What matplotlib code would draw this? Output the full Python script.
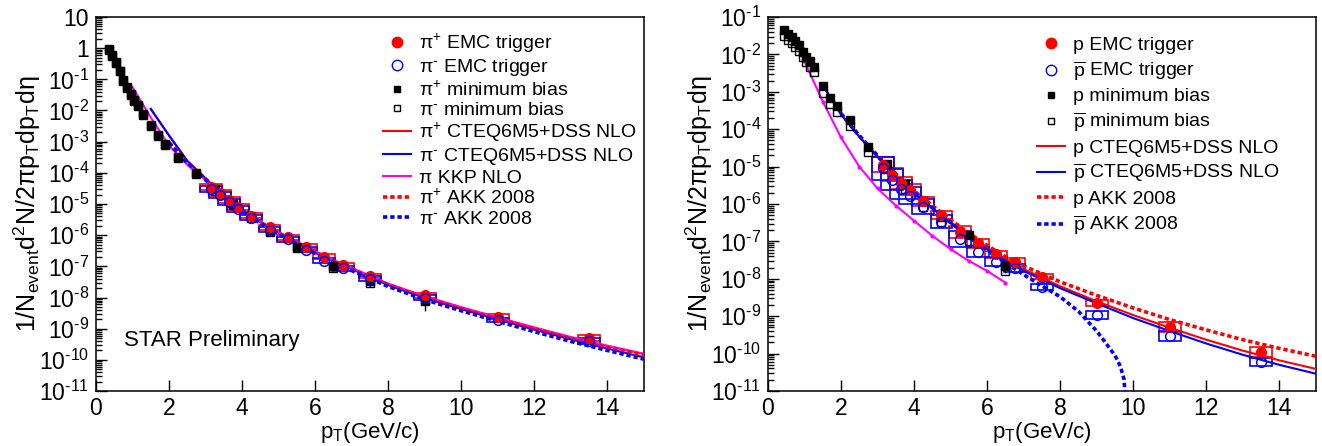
import numpy as np
import matplotlib
matplotlib.use('Agg')
import matplotlib.pyplot as plt
from matplotlib.patches import Rectangle
from matplotlib.lines import Line2D
from matplotlib.ticker import LogLocator, FuncFormatter, MultipleLocator, NullLocator

plt.rcParams['font.family'] = ['Liberation Sans', 'DejaVu Sans']
plt.rcParams['mathtext.fontset'] = 'custom'
plt.rcParams['mathtext.rm'] = 'Liberation Sans'
plt.rcParams['mathtext.it'] = 'Liberation Sans:italic'
plt.rcParams['mathtext.bf'] = 'Liberation Sans:bold'

HY = '\u2010'  # short hyphen used as superscript minus

# ---------------- pions ----------------
emc_pt = [3.15, 3.4, 3.65, 3.9, 4.25, 4.75, 5.25, 5.75, 6.25, 6.75, 7.5, 9.0, 11.0, 13.5]
pip_emc = [3.5e-5, 2.2e-5, 1.35e-5, 8.0e-6, 4.2e-6, 1.8e-6, 8.7e-7, 4.2e-7, 2.0e-7, 1.1e-7, 4.9e-8, 1.2e-8, 2.4e-9, 5.0e-10]
pim_emc = [3.1e-5, 1.9e-5, 1.15e-5, 6.8e-6, 3.6e-6, 1.5e-6, 7.3e-7, 3.4e-7, 1.5e-7, 8.8e-8, 4.0e-8, 1.0e-8, 1.9e-9, 3.9e-10]
pip_sys = [0.25, 0.25, 0.25, 0.25, 0.2, 0.2, 0.2, 0.2, 0.2, 0.2, 0.2, 0.2, 0.2, 0.25]
pim_sys = [0.25, 0.25, 0.25, 0.25, 0.2, 0.2, 0.2, 0.2, 0.2, 0.2, 0.2, 0.2, 0.2, 0.25]

pi_mb_pt = [0.35, 0.45, 0.55, 0.65, 0.75, 0.85, 0.95, 1.05, 1.15, 1.3, 1.5, 1.7, 1.9, 2.25, 2.75,
            3.25, 3.75, 4.25, 4.75, 5.5, 6.5, 7.5, 9.0]
pip_mb = [0.93, 0.6, 0.36, 0.19, 0.096, 0.056, 0.034, 0.022, 0.015, 0.0078, 0.0035, 0.0016, 8.4e-4, 3.3e-4, 1.0e-4,
          3.0e-5, 1.0e-5, 4.0e-6, 1.4e-6, 4.2e-7, 1.0e-7, 3.4e-8, 8.3e-9]
pip_mb_err = [0, 0, 0, 0, 0, 0, 0, 0, 0, 0, 0, 0, 0, 0, 0,
              0, 0, 0, 0, 0, 1.0e-8, 1.3e-8, 4.5e-9]
pim_mb = [0.88, 0.56, 0.34, 0.18, 0.09, 0.052, 0.032, 0.020, 0.014, 0.0072, 0.0032, 0.0015, 7.7e-4, 3.0e-4, 9.2e-5,
          2.7e-5, 9.0e-6, 3.6e-6, 1.25e-6, 3.8e-7, 9.0e-8, 3.0e-8, 7.5e-9]

nlo_pt = [1.5, 2.0, 2.5, 3.0, 3.5, 4.0, 4.5, 5.0, 5.5, 6.0, 6.5, 7.0, 8.0, 9.0, 10.0, 11.0, 12.0, 13.0, 14.0, 15.0]
pip_dss = [1.12e-2, 1.58e-3, 2.4e-4, 6.6e-5, 1.82e-5, 6.5e-6, 2.7e-6, 1.23e-6, 6.0e-7, 3.0e-7, 1.58e-7, 8.7e-8,
           2.7e-8, 1.05e-8, 4.7e-9, 2.2e-9, 1.05e-9, 5.2e-10, 2.75e-10, 1.55e-10]
pim_dss = [1.12e-2, 1.58e-3, 2.4e-4, 6.5e-5, 1.78e-5, 6.3e-6, 2.6e-6, 1.18e-6, 5.7e-7, 2.82e-7, 1.48e-7, 8.1e-8,
           2.5e-8, 9.6e-9, 4.25e-9, 1.97e-9, 9.3e-10, 4.55e-10, 2.3e-10, 1.2e-10]
akk_pt = [2.0, 2.5, 3.0, 3.5, 4.0, 4.5, 5.0, 5.5, 6.0, 6.5, 7.0, 8.0, 9.0, 10.0, 11.0, 12.0, 13.0, 14.0, 15.0]
pip_akk = [9.5e-4, 2.2e-4, 6.4e-5, 1.78e-5, 6.3e-6, 2.6e-6, 1.18e-6, 5.7e-7, 2.85e-7, 1.5e-7, 8.2e-8, 2.55e-8,
           9.8e-9, 4.4e-9, 2.05e-9, 9.7e-10, 4.8e-10, 2.5e-10, 1.4e-10]
pim_akk = [9.0e-4, 2.1e-4, 6.0e-5, 1.68e-5, 5.9e-6, 2.4e-6, 1.08e-6, 5.2e-7, 2.6e-7, 1.35e-7, 7.3e-8, 2.25e-8,
           8.5e-9, 3.75e-9, 1.72e-9, 8.0e-10, 3.9e-10, 2.0e-10, 1.05e-10]
kkp_pt = [1.0, 1.5, 2.0, 2.5, 3.0, 3.5, 4.0, 4.5, 5.0, 5.5, 6.0, 6.5, 7.0, 8.0, 9.0, 10.0, 11.0, 12.0, 13.0, 14.0, 15.0]
pi_kkp = [5.6e-2, 6.0e-3, 7.5e-4, 1.8e-4, 5.8e-5, 1.75e-5, 6.4e-6, 2.7e-6, 1.24e-6, 6.1e-7, 3.05e-7, 1.6e-7, 8.9e-8,
          2.8e-8, 1.1e-8, 4.9e-9, 2.3e-9, 1.1e-9, 5.4e-10, 2.85e-10, 1.55e-10]

# ---------------- protons ----------------
p_emc = [1.12e-5, 6.0e-6, 3.55e-6, 2.4e-6, 1.17e-6, 5.1e-7, 1.8e-7, 8.9e-8, 4.5e-8, 2.8e-8, 1.15e-8, 2.2e-9, 5.2e-10, 1.12e-10]
pbar_emc = [8.9e-6, 4.5e-6, 2.5e-6, 1.66e-6, 8.5e-7, 3.4e-7, 1.15e-7, 5.2e-8, 2.9e-8, 1.95e-8, 5.9e-9, 1.07e-9, 2.95e-10, 6.0e-11]
p_sys = [0.6, 0.5, 0.45, 0.4, 0.35, 0.3, 0.45, 0.3, 0.25, 0.25, 0.2, 0.2, 0.35, 0.35]
pbar_sys = [1.0, 0.9, 0.8, 0.7, 0.6, 0.5, 0.6, 0.35, 0.3, 0.3, 0.2, 0.25, 0.35, 0.3]

p_mb_pt = [0.45, 0.55, 0.65, 0.75, 0.85, 0.95, 1.05, 1.15, 1.25, 1.5, 1.7, 1.9, 2.25, 2.75,
           3.25, 3.75, 4.25, 4.75, 5.5, 6.5]
p_mb = [4.5e-2, 3.6e-2, 2.95e-2, 2.35e-2, 1.78e-2, 1.17e-2, 8.7e-3, 6.5e-3, 4.7e-3, 1.4e-3, 6.8e-4, 4.2e-4, 1.8e-4, 3.4e-5,
        1.17e-5, 3.5e-6, 1.17e-6, 4.6e-7, 1.48e-7, 2.2e-8]
p_mb_err = [0, 0, 0, 0, 0, 0, 0, 0, 0, 0, 0, 0, 0, 0,
            0, 0, 0, 0, 0, 8.0e-9]
pbar_mb = [3.2e-2, 2.5e-2, 2.0e-2, 1.6e-2, 1.2e-2, 8.3e-3, 6.2e-3, 4.6e-3, 3.4e-3, 9.5e-4, 4.7e-4, 2.9e-4, 1.25e-4, 2.5e-5,
           8.5e-6, 2.5e-6, 8.5e-7, 3.3e-7, 1.0e-7, 1.6e-8]

p_dss = [1.51e-3, 2.5e-4, 6.3e-5, 1.86e-5, 5.75e-6, 2.0e-6, 7.9e-7, 3.3e-7, 1.45e-7, 6.8e-8, 3.4e-8, 1.82e-8,
         6.3e-9, 2.5e-9, 1.07e-9, 4.9e-10, 2.35e-10, 1.2e-10, 6.6e-11, 3.9e-11]
pbar_dss = [1.51e-3, 2.5e-4, 6.3e-5, 1.86e-5, 5.6e-6, 1.95e-6, 7.6e-7, 3.1e-7, 1.35e-7, 6.2e-8, 3.0e-8, 1.62e-8,
            5.6e-9, 2.2e-9, 8.9e-10, 4.0e-10, 1.86e-10, 9.3e-11, 5.0e-11, 2.9e-11]
p_akk = [2.6e-4, 6.8e-5, 2.0e-5, 6.3e-6, 2.25e-6, 9.1e-7, 3.8e-7, 1.66e-7, 7.8e-8, 3.9e-8, 2.2e-8, 8.3e-9,
         3.6e-9, 1.66e-9, 8.1e-10, 4.3e-10, 2.35e-10, 1.38e-10, 8.5e-11]
pbar_akk_pt = [2.0, 2.5, 3.0, 3.5, 4.0, 4.5, 5.0, 5.5, 6.0, 6.5, 7.0, 7.5, 8.0, 8.5, 9.0, 9.25, 9.5, 9.65, 9.75, 9.82]
pbar_akk = [2.6e-4, 6.6e-5, 1.9e-5, 5.9e-6, 2.05e-6, 7.9e-7, 3.2e-7, 1.32e-7, 5.8e-8, 2.7e-8, 1.29e-8, 6.5e-9,
            3.3e-9, 1.35e-9, 4.0e-10, 1.9e-10, 8.9e-11, 4.5e-11, 2.0e-11, 1e-12]
p_kkp_pt = [1.0, 1.5, 2.0, 2.5, 3.0, 3.5, 4.0, 4.5, 5.0, 5.5, 6.0, 6.5]
p_kkp = [6.5e-3, 5.5e-4, 6.0e-5, 1.0e-5, 2.6e-6, 9.1e-7, 3.55e-7, 1.41e-7, 6.2e-8, 3.0e-8, 1.62e-8, 7.9e-9]

RED, BLUE, MAG = '#ff0000', '#0000ff', '#ff00ff'
DOT = (0, (1.2, 0.8))


def sys_boxes(ax, pt, y, s, color, hw=0.3):
    for x0, y0, s0 in zip(pt, y, s):
        lo, hi = y0 / (1 + s0), y0 * (1 + s0)
        ax.add_patch(Rectangle((x0 - hw, lo), 2 * hw, hi - lo, fill=False,
                               ec=color, lw=1.2, zorder=2))


def exp_label(v, pos):
    e = int(round(np.log10(v)))
    if e == 1:
        return '10'
    if e == 0:
        return '1'
    sign = HY if e < 0 else ''
    return r'$\mathrm{10^{%s%d}}$' % (sign, abs(e))


def style_axes(ax, ylo, yhi):
    ax.set_xlim(0, 15)
    ax.set_yscale('log')
    ax.set_ylim(ylo, yhi)
    ax.xaxis.set_major_locator(MultipleLocator(2))
    ax.xaxis.set_minor_locator(NullLocator())
    ax.yaxis.set_major_locator(LogLocator(base=10, numticks=30))
    ax.yaxis.set_minor_locator(LogLocator(base=10, subs=np.arange(2, 10), numticks=30))
    ax.yaxis.set_major_formatter(FuncFormatter(exp_label))
    ax.tick_params(which='both', direction='in', top=False, right=False, labelsize=16.5, width=1.0)
    ax.tick_params(axis='x', which='major', length=8, pad=4)
    ax.tick_params(axis='y', which='major', length=8, pad=5)
    ax.tick_params(axis='y', which='minor', length=4.3)
    for sp in ax.spines.values():
        sp.set_linewidth(1.1)
    ax.set_xlabel(r'p$_{\mathrm{T}}$(GeV/c)', fontsize=16)
    ax.xaxis.set_label_coords(0.5, -0.077)
    ax.set_ylabel(r'1/N$_{\mathrm{event}}$d$^{2}$N/2πp$_{\mathrm{T}}$dp$_{\mathrm{T}}$dη', fontsize=18)
    ax.yaxis.set_label_coords(-0.097, 0.5)


fig = plt.figure(figsize=(13.22, 4.46), dpi=100)
ax1 = fig.add_axes([0.0726, 0.1233, 0.4145, 0.8386])
ax2 = fig.add_axes([0.5809, 0.1233, 0.4145, 0.8386])

# left: charged pions
sys_boxes(ax1, emc_pt, pip_emc, pip_sys, RED)
sys_boxes(ax1, emc_pt, pim_emc, pim_sys, BLUE)
ax1.plot(nlo_pt, pip_dss, color=RED, lw=1.5, zorder=3)
ax1.plot(nlo_pt, pim_dss, color=BLUE, lw=1.5, zorder=3)
ax1.plot(kkp_pt, pi_kkp, color=MAG, lw=1.5, zorder=3)
ax1.plot(akk_pt, pip_akk, color=RED, lw=2.6, ls=DOT, zorder=3)
ax1.plot(akk_pt, pim_akk, color=BLUE, lw=2.6, ls=DOT, zorder=3)
ax1.errorbar(pi_mb_pt, pip_mb, yerr=pip_mb_err, fmt='s', color='k', ms=6, elinewidth=1, zorder=4)
ax1.plot(pi_mb_pt, pim_mb, 's', mfc='none', mec='k', ms=6, mew=1, zorder=4)
ax1.plot(emc_pt, pip_emc, 'o', color=RED, ms=7, zorder=5)
ax1.plot(emc_pt, pim_emc, 'o', mfc='none', mec=BLUE, ms=7, mew=1.1, zorder=5)
style_axes(ax1, 1e-11, 10)
ax1.text(0.051, 0.134, 'STAR Preliminary', transform=ax1.transAxes, fontsize=16, va='center')

pi_handles = [
    Line2D([], [], marker='o', ls='none', color=RED, ms=7.5),
    Line2D([], [], marker='o', ls='none', mfc='none', mec=BLUE, ms=7.5, mew=1),
    Line2D([], [], marker='s', ls='none', color='k', ms=4.5),
    Line2D([], [], marker='s', ls='none', mfc='none', mec='k', ms=4.5, mew=1),
    Line2D([], [], color=RED, lw=1.5),
    Line2D([], [], color=BLUE, lw=1.5),
    Line2D([], [], color=MAG, lw=1.5),
    Line2D([], [], color=RED, lw=2.6, ls=DOT),
    Line2D([], [], color=BLUE, lw=2.6, ls=DOT),
]
pi_labels = ['π$^{+}$ EMC trigger', 'π$^{%s}$ EMC trigger' % HY, 'π$^{+}$ minimum bias',
             'π$^{%s}$ minimum bias' % HY, 'π$^{+}$ CTEQ6M5+DSS NLO', 'π$^{%s}$ CTEQ6M5+DSS NLO' % HY,
             'π KKP NLO', 'π$^{+}$ AKK 2008', 'π$^{%s}$ AKK 2008' % HY]
ax1.legend(pi_handles, pi_labels, loc='upper left', bbox_to_anchor=(0.524, 0.96), frameon=False,
           fontsize=14, handlelength=1.45, handletextpad=0.4, labelspacing=0.1,
           borderpad=0, borderaxespad=0)

# right: protons and antiprotons
sys_boxes(ax2, emc_pt, p_emc, p_sys, RED)
sys_boxes(ax2, emc_pt, pbar_emc, pbar_sys, BLUE)
ax2.plot(nlo_pt, p_dss, color=RED, lw=1.5, zorder=3)
ax2.plot(nlo_pt, pbar_dss, color=BLUE, lw=1.5, zorder=3)
ax2.plot(p_kkp_pt, p_kkp, color=MAG, lw=1.5, marker='o', ms=2, zorder=3)
ax2.plot(akk_pt, p_akk, color=RED, lw=2.6, ls=DOT, zorder=3)
ax2.plot(pbar_akk_pt, pbar_akk, color=BLUE, lw=2.6, ls=DOT, zorder=3)
ax2.errorbar(p_mb_pt, p_mb, yerr=p_mb_err, fmt='s', color='k', ms=6, elinewidth=1, zorder=4)
ax2.plot(p_mb_pt, pbar_mb, 's', mfc='none', mec='k', ms=6, mew=1, zorder=4)
ax2.plot(emc_pt, p_emc, 'o', color=RED, ms=7, zorder=5)
ax2.plot(emc_pt, pbar_emc, 'o', mfc='none', mec=BLUE, ms=7, mew=1.1, zorder=5)
style_axes(ax2, 1e-11, 1e-1)

p_handles = pi_handles[:6] + pi_handles[7:]
p_labels = ['p EMC trigger', r'$\overline{\mathrm{p}}$ EMC trigger', 'p minimum bias',
            r'$\overline{\mathrm{p}}$ minimum bias', 'p CTEQ6M5+DSS NLO',
            r'$\overline{\mathrm{p}}$ CTEQ6M5+DSS NLO', 'p AKK 2008', r'$\overline{\mathrm{p}}$ AKK 2008']
ax2.legend(p_handles, p_labels, loc='upper left', bbox_to_anchor=(0.491, 0.948), frameon=False,
           fontsize=14, handlelength=1.45, handletextpad=0.4, labelspacing=0.26,
           borderpad=0, borderaxespad=0)

fig.savefig('out.png', dpi=100)
